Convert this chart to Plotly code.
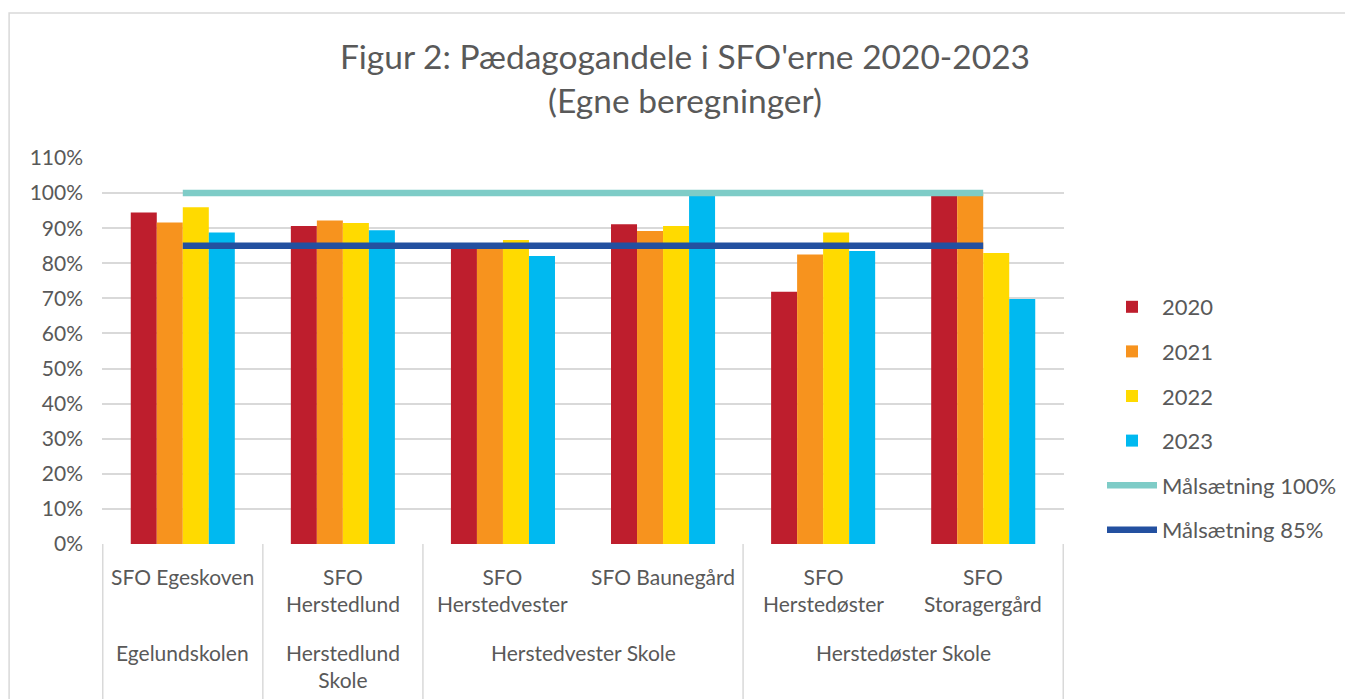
import plotly.graph_objects as go

schools = ["Egelundskolen", "Herstedlund<br>Skole", "Herstedvester Skole", "Herstedvester Skole",
           "Herstedøster Skole", "Herstedøster Skole"]
sfos = ["SFO Egeskoven", "SFO<br>Herstedlund", "SFO<br>Herstedvester", "SFO Baunegård",
        "SFO<br>Herstedøster", "SFO<br>Storagergård"]

years = ["2020", "2021", "2022", "2023"]
v2020 = [0.945, 0.906, 0.850, 0.911, 0.719, 0.995]
v2021 = [0.916, 0.922, 0.848, 0.892, 0.825, 0.998]
v2022 = [0.960, 0.915, 0.866, 0.906, 0.888, 0.829]
v2023 = [0.888, 0.894, 0.821, 0.995, 0.835, 0.698]
values = [v2020, v2021, v2022, v2023]
colors = ["#BE1E2D", "#F7931E", "#FFDA00", "#00B9F0"]

target100 = [1.0] * 6
target85 = [0.85] * 6

tick_vals = [i / 10 for i in range(12)]
tick_text = [f"{i * 10}%" for i in range(12)]

# page offset (browser body margin) -> work in reference pixel coords, convert
OFF = 8
W, H = 1353 - OFF, 699 - OFF
L, R, T, B = 102, 1065, 158, 544          # plot area in reference pixels
pw, ph = R - L, B - T


def py(yref_px):
    return (B - yref_px) / ph


def px(xref_px):
    return (xref_px - L) / pw


fig = go.Figure()
for i, (yr, vals, col) in enumerate(zip(years, values, colors)):
    fig.add_trace(go.Bar(x=sfos, y=vals, name=yr, marker=dict(color=col, line=dict(width=0)),
                         legendgroup=f"g{i}"))
fig.add_trace(go.Scatter(x=sfos, y=target100, mode="lines", name="Målsætning 100%",
                         line=dict(color="#7ECCC7", width=6.5), legendgroup="g4"))
fig.add_trace(go.Scatter(x=sfos, y=target85, mode="lines", name="Målsætning 85%",
                         line=dict(color="#2350A0", width=6.5), legendgroup="g5"))

font_family = "Lato, 'Open Sans', sans-serif"
gray = "#595959"
lbl_size = 21

annotations = []
# inner row (SFO names)
for s in sfos:
    two = "<br>" in s
    annotations.append(dict(x=s, xref="x", y=py(590 if two else 576), yref="paper",
                            text=s, showarrow=False, xanchor="center", yanchor="middle",
                            font=dict(size=lbl_size, color=gray)))
# outer row (schools), grouped by consecutive equal names
groups = []
for idx, sc in enumerate(schools):
    if groups and groups[-1][0] == sc:
        groups[-1][2] = idx
    else:
        groups.append([sc, idx, idx])
shapes = []
for sc, a, b in groups:
    two = "<br>" in sc
    annotations.append(dict(x=(a + b) / 2, xref="x", y=py(666 if two else 652), yref="paper",
                            text=sc, showarrow=False, xanchor="center", yanchor="middle",
                            font=dict(size=lbl_size, color=gray)))
    shapes.append(dict(type="line", xref="x", yref="paper", x0=a - 0.5, x1=a - 0.5,
                       y0=0, y1=py(H + OFF + 5), line=dict(color="#D9D9D9", width=1.5)))
shapes.append(dict(type="line", xref="x", yref="paper", x0=len(sfos) - 0.5, x1=len(sfos) - 0.5,
                   y0=0, y1=py(H + OFF + 5), line=dict(color="#D9D9D9", width=1.5)))
# chart-area border
shapes.append(dict(type="rect", xref="paper", yref="paper",
                   x0=px(OFF + 1), x1=px(1353 + 10), y0=py(699 + 10), y1=py(13),
                   line=dict(color="#D9D9D9", width=1.5), fillcolor="rgba(0,0,0,0)", layer="below"))

fig.update_layout(
    width=W, height=H,
    margin=dict(l=L - OFF, r=W - (R - OFF), t=T - OFF, b=H - (B - OFF), pad=0),
    paper_bgcolor="white", plot_bgcolor="white",
    font=dict(family=font_family, color=gray, size=lbl_size),
    barmode="group", bargap=0.35, bargroupgap=0,
    title=dict(text="Figur 2: Pædagogandele i SFO'erne 2020-2023<br>(Egne beregninger)",
               x=(685 - OFF) / W, xanchor="center", xref="container",
               y=1 - (69 - OFF) / H, yanchor="middle", yref="container",
               font=dict(size=33.5, color=gray, family=font_family)),
    showlegend=True,
    legend=dict(x=px(1102), xanchor="left", y=py(286), yanchor="top",
                font=dict(size=22, color=gray), traceorder="grouped", tracegroupgap=13,
                bgcolor="rgba(0,0,0,0)", itemwidth=50),
    xaxis=dict(type="category", showgrid=False, showline=False, zeroline=False,
               showticklabels=False, ticks=""),
    yaxis=dict(range=[0, 1.1], tickvals=tick_vals, ticktext=tick_text,
               showgrid=True, gridcolor="#D9D9D9", gridwidth=1.5, zeroline=False,
               showline=False, ticks="", tickfont=dict(size=21, color=gray),
               ticklabelstandoff=18),
    annotations=annotations,
    shapes=shapes,
)

fig.write_html("out.html")
